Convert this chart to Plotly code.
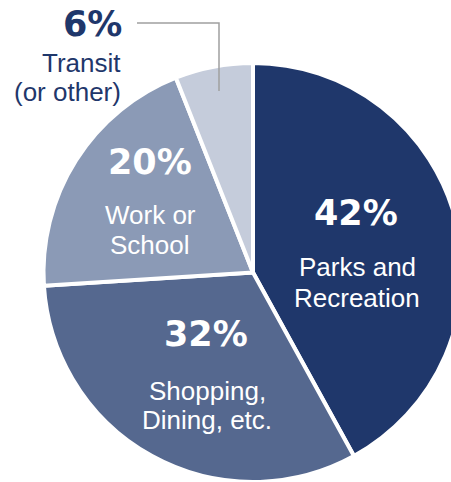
import plotly.graph_objects as go

labels = ["Parks and Recreation", "Shopping, Dining, etc.", "Work or School", "Transit (or other)"]
values = [42, 32, 20, 6]
colors = ["#1f376b", "#55688f", "#8b9ab6", "#c5ccdb"]
pct_text = ["42%", "32%", "20%", "6%"]
name_lines = [["Parks and", "Recreation"], ["Shopping,", "Dining, etc."], ["Work or", "School"], ["Transit", "(or other)"]]

# positions below are in screen pixels; the body margin is removed after plotting
OFF = 0
W, H = 466, 482
cx, cy, r = 253, 273, 210

def px(x):
    return (x - OFF) / W

def py(y):
    return 1 - (y - OFF) / H

fig = go.Figure(go.Pie(
    labels=labels, values=values, sort=False, direction="clockwise", rotation=0,
    marker=dict(colors=colors, line=dict(color="white", width=4)),
    textinfo="none", hoverinfo="label+percent", showlegend=False,
    domain=dict(x=[px(cx - r), px(cx + r)], y=[max(0, py(cy + r)), py(cy - r)]),
))

pct_pos = [(356, 213), (206, 334), (150, 162), (92, 24)]
name_pos = [(357, [267, 298]), (207, [391, 420]), (150, [215, 245]), (123, [63, 92])]
txt_colors = ["white", "white", "white", "#1f376b"]

annotations = []
for i in range(4):
    x, y = pct_pos[i]
    annotations.append(dict(x=px(x), y=py(y), xref="paper", yref="paper", text=pct_text[i],
                            showarrow=False, xanchor="center", yanchor="middle",
                            font=dict(family="DejaVu Sans", size=35, color=txt_colors[i], weight="bold")))
    x, ys = name_pos[i]
    for line, y in zip(name_lines[i], ys):
        annotations.append(dict(x=px(x), y=py(y), xref="paper", yref="paper", text=line,
                                showarrow=False, xanchor="center" if i < 3 else "right", yanchor="middle",
                                font=dict(family="Liberation Sans", size=26, color=txt_colors[i])))

shapes = [dict(type="path", xref="paper", yref="paper",
               path=f"M {px(137)},{py(23)} L {px(219)},{py(23)} L {px(219)},{py(91)}",
               line=dict(color="#a0a0a0", width=1.5))]

fig.update_layout(width=W, height=H, margin=dict(l=0, r=0, t=0, b=0),
                  paper_bgcolor="white", plot_bgcolor="white",
                  annotations=annotations, shapes=shapes)
fig.write_html("out.html", config={"displayModeBar": False},
               post_script="document.body.style.margin='0';document.body.style.overflow='hidden';")
